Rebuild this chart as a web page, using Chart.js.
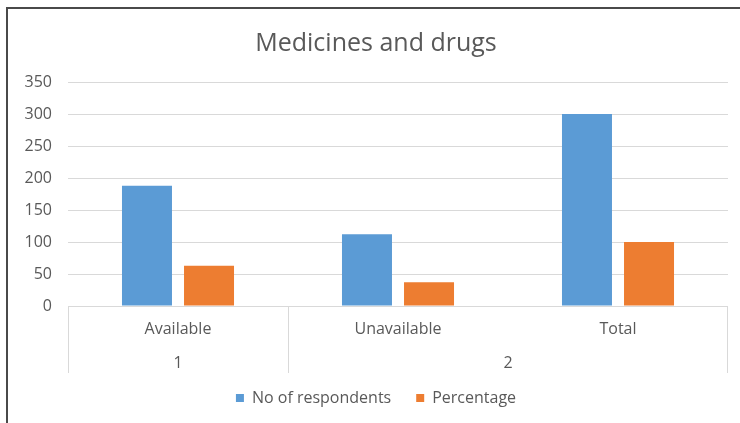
<!DOCTYPE html>
<html>
<head>
<meta charset="utf-8">
<script src="https://cdn.jsdelivr.net/npm/chart.js@4"></script>
<style>
  html, body { margin: 0; padding: 0; background: #fff; }
  #wrap { position: relative; width: 740px; height: 423px; overflow: hidden; }
  #frame {
    position: absolute; left: 6px; top: 7px; width: 760px; height: 440px;
    border-left: 2px solid #4a4a4a; border-top: 2px solid #4a4a4a;
    pointer-events: none;
  }
  canvas { position: absolute; left: 0; top: 0; }
</style>
</head>
<body>
<div id="wrap">
  <canvas id="chart" width="740" height="423"></canvas>
  <div id="frame"></div>
</div>
<script>
const chartTitle = "Medicines and drugs";
const categories = ["Available", "Unavailable", "Total"];
const respondents = [188, 112, 300];
const percentage = [62.7, 37.3, 100];
const yTicks = [0, 50, 100, 150, 200, 250, 300, 350];

// second row of the category axis: label + first/last category index
const groupLabels = ["1", "2"];
const groupSpans = [[0, 0], [1, 2]];

const textColor = "#595959";
const gridColor = "#d9d9d9";
const fontFamily = "'Open Sans', 'Liberation Sans', sans-serif";

// draws the two-level category axis (dividers + group labels)
const groupAxis = {
  id: "groupAxis",
  afterDraw(chart) {
    const x = chart.scales.x;
    const ctx = chart.ctx;
    const half = (x.getPixelForValue(1) - x.getPixelForValue(0)) / 2;
    const top = chart.chartArea.bottom;
    const bottom = top + 67;

    ctx.save();
    ctx.strokeStyle = gridColor;
    ctx.lineWidth = 1;
    ctx.fillStyle = textColor;
    ctx.font = "16px " + fontFamily;
    ctx.textAlign = "center";
    ctx.textBaseline = "middle";

    groupSpans.forEach((span, i) => {
      const left = x.getPixelForValue(span[0]) - half;
      const right = x.getPixelForValue(span[1]) + half;
      ctx.beginPath();
      ctx.moveTo(Math.round(left) + 0.5, top);
      ctx.lineTo(Math.round(left) + 0.5, bottom);
      if (i === groupSpans.length - 1) {
        ctx.moveTo(Math.round(right) - 0.5, top);
        ctx.lineTo(Math.round(right) - 0.5, bottom);
      }
      ctx.stroke();
      ctx.fillText(groupLabels[i], (left + right) / 2, top + 57.5);
    });
    ctx.restore();
  }
};

const ctx = document.getElementById("chart").getContext("2d");

window.myChart = new Chart(ctx, {
  type: "bar",
  data: {
    labels: categories,
    datasets: [
      {
        label: "No of respondents",
        data: respondents,
        backgroundColor: "#5b9bd5",
        categoryPercentage: 0.564,
        barPercentage: 0.806
      },
      {
        label: "Percentage",
        data: percentage,
        backgroundColor: "#ed7d31",
        categoryPercentage: 0.564,
        barPercentage: 0.806
      }
    ]
  },
  options: {
    responsive: false,
    animation: false,
    layout: {
      padding: { left: 24, right: 12, top: 0, bottom: 7 }
    },
    plugins: {
      title: {
        display: true,
        text: chartTitle,
        color: textColor,
        font: { family: fontFamily, size: 25, weight: "normal" },
        padding: { top: 29, bottom: 23 }
      },
      legend: {
        position: "bottom",
        labels: {
          color: textColor,
          font: { family: fontFamily, size: 16 },
          boxWidth: 8,
          boxHeight: 8,
          padding: 25
        }
      },
      tooltip: { enabled: false }
    },
    scales: {
      x: {
        grid: { display: false },
        border: { display: false },
        ticks: {
          color: textColor,
          font: { family: fontFamily, size: 16 },
          padding: 6,
          maxRotation: 0
        },
        afterFit(scale) {
          scale.height = 59;
        }
      },
      y: {
        min: 0,
        max: 350,
        grid: { color: gridColor, drawTicks: false },
        border: { display: false },
        afterBuildTicks(scale) {
          scale.ticks = yTicks.map(v => ({ value: v }));
        },
        ticks: {
          color: textColor,
          font: { family: fontFamily, size: 16 },
          padding: 16
        },
        afterFit(scale) {
          scale.width = 44;
        }
      }
    }
  },
  plugins: [groupAxis]
});
</script>
</body>
</html>
